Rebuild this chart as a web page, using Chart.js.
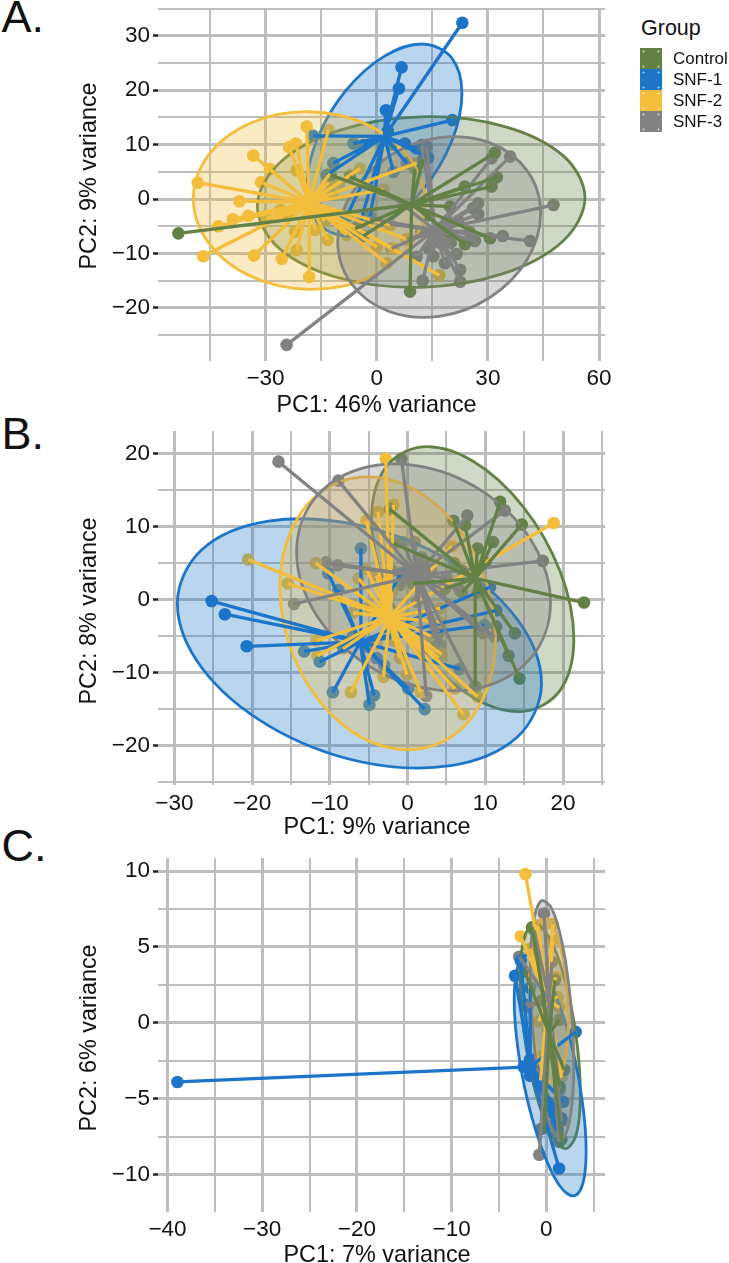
<!DOCTYPE html>
<html>
<head>
<meta charset="utf-8">
<script src="https://cdn.jsdelivr.net/npm/chart.js@4"></script>
<style>
  html, body { margin: 0; padding: 0; background: #fff; width: 729px; height: 1263px; overflow: hidden; }
  body { position: relative; font-family: "Liberation Sans", Arial, sans-serif; color: #111; }
  canvas { position: absolute; left: 0; }
  .letter { position: absolute; left: 1.5px; font-size: 45px; line-height: 45px; }
  .axisTitle { position: absolute; font-size: 23.4px; line-height: 24px; white-space: nowrap; transform: translate(-50%, -50%); }
  .axisTitle.vertical { transform: translate(-50%, -50%) rotate(-90deg); }
  #legendTitle { position: absolute; left: 641px; top: 16px; font-size: 21.5px; line-height: 24px; }
  .key { position: absolute; left: 640px; width: 22px; height: 21px;
         background-image: radial-gradient(circle, rgba(255,255,255,.55) 0.8px, transparent 1.4px);
         background-size: 15px 15px; background-position: -4px -4px; }
  .keyText { position: absolute; left: 673px; font-size: 17px; line-height: 21px; white-space: nowrap; }
</style>
</head>
<body>
<div class="letter" style="top:-6px">A.</div>
<div class="letter" style="top:411px">B.</div>
<div class="letter" style="top:823px">C.</div>
<div id="legendTitle">Group</div>
<canvas id="chartA" width="729" height="420" style="top:0"></canvas>
<canvas id="chartB" width="729" height="420" style="top:420px"></canvas>
<canvas id="chartC" width="729" height="425" style="top:845px"></canvas>
<div class="axisTitle" style="left:376.5px; top:403.6px">PC1: 46% variance</div>
<div class="axisTitle vertical" style="left:88.2px; top:176px">PC2: 9% variance</div>
<div class="axisTitle" style="left:377px; top:826px">PC1: 9% variance</div>
<div class="axisTitle vertical" style="left:88.2px; top:610.7px">PC2: 8% variance</div>
<div class="axisTitle" style="left:377px; top:1254.4px">PC1: 7% variance</div>
<div class="axisTitle vertical" style="left:88.2px; top:1038px">PC2: 6% variance</div>

<script>
'use strict';

// groups and colours
const groupNames = ['Control', 'SNF-1', 'SNF-2', 'SNF-3'];
const groupColors = ['#638146', '#1c75c8', '#f2be3c', '#828282'];

// panel A, samples as [PC1, PC2]
const aControlCenter = [9.4, -1];
const aControlPoints = [[-53.5,-6.3],[-12.4,4.4],[9,-17],[31.9,8.5],[32.4,4],[31,2.3],[23.8,2.3],[19.8,-1.4],[30.6,-7.2],[23.8,-8.3],[12.6,7.3],[10.3,5.6],[-5.8,-5.4],[-3.6,-6.8],[-7.2,4.1],[14,-3],[19,-6]];
const aControlHull = [[56.2,0.25],[50.3,7.97],[34.1,13.41],[12,15.11],[-10.1,12.61],[-26.3,6.59],[-32.2,-1.35],[-26.3,-9.07],[-10.1,-14.51],[12,-16.21],[34.1,-13.71],[50.3,-7.69]];

const aSnf1Center = [2.1, 11.5];
const aSnf1Points = [[23.1,32.4],[6.7,24.2],[6,20.3],[2.5,16.3],[20.4,14.5],[-17.1,11.6],[-6.3,10.2],[-3.6,9.9],[7.6,10.2],[10.8,9.3],[13.9,7.6],[8.1,6.6],[4.5,5],[-11.7,6.6],[-13.5,4.4],[-8.1,-3.2],[-4.3,-4.2],[-1.8,-3.2],[2.5,11],[3,12.5],[1,10.5],[4,10]];
const aSnf1Hull = [[23,19.41],[20.2,25.97],[12.55,28.48],[2.1,26.26],[-8.35,19.9],[-16,11.13],[-18.8,2.27],[-16,-4.29],[-8.35,-6.8],[2.1,-4.58],[12.55,1.78],[20.2,10.55]];

const aSnf2Center = [-18.2, -0.6];
const aSnf2Points = [[-18.9,13.3],[-13,12.7],[-21.8,10.2],[-23.6,9.5],[-33.3,8],[-28.8,5.5],[-21.6,5.3],[-31.2,3.1],[-48.3,3],[-37,-0.4],[-34.6,-3.1],[-38.8,-3.7],[-42.7,-5],[-46.8,-10.5],[-33.1,-10.4],[-25.6,-11],[-21.6,-9.4],[-18.2,-14.3],[-16.6,-5.7],[-13.2,-7.5],[-8.1,-6.6],[0,-8.8],[3.6,-4.8],[8.1,-7.4],[4.5,-9.1],[2.7,-11.8],[16.9,-14],[-4.5,5.6],[-7.2,4.4],[-12.6,4.7],[1.8,1.7],[-29.7,-3.6],[10.8,6.6],[-24,-3],[-12,1],[-10,3],[-26,-2],[-14,-4],[-22,-6],[-13,3]];
const aSnf2Hull = [[13.05,-0.63],[8.86,7.58],[-2.57,13.67],[-18.2,16.04],[-33.83,14.03],[-45.26,8.18],[-49.45,0.07],[-45.26,-8.14],[-33.83,-14.23],[-18.2,-16.6],[-2.57,-14.59],[8.86,-8.74]];

const aSnf3Center = [15.7, -5.7];
const aSnf3Points = [[-24.3,-26.8],[36,7.8],[31,7.5],[47.7,-1.1],[27.4,-0.8],[26,-1.7],[27.4,-2.8],[34,-6.8],[41.4,-7.7],[26.5,-7.7],[21.6,-10.1],[18.4,-11.8],[22.5,-13],[22.5,-15.2],[12.4,-15],[15.3,-10.5],[10.8,-10.6],[4,-9.1],[13.5,9.6],[12.1,9.9],[1.8,1.7],[3.6,-4.6],[-1.8,-3.6],[8.1,-7.4],[12,-6],[19,-4],[20,-8],[14,-9],[17,-8],[22,-4],[25,-6]];
const aSnf3Hull = [[44.24,-2.63],[40.57,5.23],[30.55,10.33],[16.86,11.27],[3.17,7.81],[-6.85,0.89],[-10.52,-7.65],[-6.85,-15.51],[3.17,-20.61],[16.86,-21.55],[30.55,-18.09],[40.57,-11.17]];

// panel B
const bControlCenter = [8.7, 2.9];
const bControlPoints = [[22.7,-0.4],[14.4,-10.8],[13,-7.7],[13.8,-4.6],[11.9,13.4],[14.7,10.3],[11,7.9],[5.9,10.8],[7.4,10.2],[-2.3,12.4],[-1.8,7.7],[0.7,2.2],[4.8,1.5],[8.7,-11.9],[11.4,-3.7],[7,4],[9,1],[10,5],[7,1],[9,7],[6,5]];
const bControlHull = [[21.39,-5.4],[19.65,3.8],[14.88,12.72],[8.38,18.99],[1.88,20.92],[-2.89,18],[-4.63,11],[-2.89,1.8],[1.88,-7.12],[8.38,-13.39],[14.88,-15.32],[19.65,-12.4]];

const bSnf1Center = [-6.1, -5.8];
const bSnf1Points = [[-25.2,-0.2],[-23.5,-2],[-20.7,-6.4],[-13.3,-7.1],[-11.3,-8.5],[-9.6,-12.7],[-4.9,-14.4],[-4.3,-13.1],[0.1,-12.2],[2.2,-15],[6.7,-9.5],[9.9,-3.5],[-6,7],[-10.2,3.6],[-8.9,1.3],[-8.3,-6.5],[10.6,1.7],[11.4,-1.5],[-0.8,3.6],[-7,-5],[-5,-6.5],[-4,-8],[-3,-9]];
const bSnf1Hull = [[17.23,-11.51],[14.09,-2.68],[5.52,5.24],[-6.19,10.16],[-17.9,10.74],[-26.47,6.84],[-29.61,-0.51],[-26.47,-9.34],[-17.9,-17.26],[-6.19,-22.18],[5.52,-22.76],[14.09,-18.86]];

const bSnf2Center = [-2.3, -2.4];
const bSnf2Points = [[-2.8,19.3],[18.8,10.5],[-20.5,5.5],[-15.4,2.2],[-11.8,5],[-1.8,13],[-3.8,12],[-5.3,10.8],[5.7,7.3],[-5.3,4.2],[-6.3,2.9],[-4,3.3],[-7,-1.8],[4.2,-1.2],[4.2,-3.1],[4.4,-7.5],[-11.7,-5.6],[-11.6,-7.7],[-8.3,-6.7],[-7.3,-12.7],[-3.1,-10.6],[-0.1,-10.3],[1.7,-12.7],[6.1,-12.2],[7.2,-15.7],[9,-13.3],[-1.8,-5.6],[-5,-1],[0,-4],[1,-6],[-4,-6],[-1,-8],[2,-7],[-2,1],[-3,3],[3,-5],[4,-8]];
const bSnf2Hull = [[11.32,-5.37],[9.46,4.3],[4.39,12.31],[-2.55,16.52],[-9.49,15.81],[-14.56,10.36],[-16.42,1.63],[-14.56,-8.04],[-9.49,-16.05],[-2.55,-20.26],[4.39,-19.55],[9.46,-14.1]];

const bSnf3Center = [1.2, 3.3];
const bSnf3Points = [[-16.6,18.9],[-0.8,19.3],[-8.9,16.3],[12.5,12.2],[7.7,11.5],[17.4,5.3],[-9,4.7],[-10.5,5.1],[-14.6,-0.6],[-0.6,7.9],[1.8,5.8],[0.9,7.9],[4.2,-6.2],[3.5,-5.3],[2.4,-13.2],[8.7,-12.2],[9.7,-4.6],[11.2,-5.1],[6.7,1.3],[4.6,1.3],[1.2,-0.3],[3.8,-5.8],[4,-4.5],[1.5,2],[3,4],[-1,2],[2,5],[0,4],[5,3],[-2,4]];
const bSnf3Hull = [[18.39,-0.45],[16.2,7.59],[10.23,14.41],[2.06,18.19],[-6.11,17.91],[-12.08,13.65],[-14.27,6.55],[-12.08,-1.49],[-6.11,-8.31],[2.06,-12.09],[10.23,-11.81],[16.2,-7.55]];

// panel C
const cControlCenter = [0.3, -0.7];
const cControlPoints = [[-1.5,6.3],[1.6,-7.7],[1.4,0.2],[1.4,-4.2],[1.9,-3.1],[-0.2,-6.9],[-0.4,1.5],[-2.3,3.4],[0.9,2.8],[-1,4.5]];
const cControlHull = [[3.6,-4.67],[3.17,-0.97],[2.01,2.75],[0.42,5.5],[-1.17,6.55],[-2.33,5.61],[-2.76,2.93],[-2.33,-0.77],[-1.17,-4.49],[0.42,-7.24],[2.01,-8.29],[3.17,-7.35]];

const cSnf1Center = [-1.7, -2.9];
const cSnf1Points = [[-38.95,-3.9],[-3.3,3.1],[3.1,-0.6],[1.35,-9.6],[1.8,-5.2],[1.6,-6.3],[-1.7,2.3],[-1.6,-3],[-1.2,-3.3],[-1.9,-2.9],[-0.6,-4.2],[0.3,-5.3],[1.2,-7.1],[-2.7,4.1],[-2.4,-2.9],[-1,-2.9],[-1.7,-2.4],[-1.7,-3.5],[-1,-3.6],[0.8,-6],[1,-6.6]];
const cSnf1Hull = [[4.21,-8.47],[4.08,-6.7],[3.7,-4.72],[3.1,-2.65],[2.31,-0.64],[1.39,1.18],[0.41,2.69],[-0.57,3.78],[-1.49,4.36],[-2.28,4.43],[-2.88,3.94],[-3.26,2.96],[-3.39,1.53],[-3.26,-0.24],[-2.88,-2.22],[-2.28,-4.29],[-1.49,-6.3],[-0.57,-8.12],[0.41,-9.63],[1.39,-10.72],[2.31,-11.3],[3.1,-11.37],[3.7,-10.88],[4.08,-9.9]];

const cSnf2Center = [0.14, 1.5];
const cSnf2Points = [[-2.2,9.8],[-2.7,5.7],[0.7,6.5],[0.7,5.4],[1,3],[1.2,1.7],[1.4,1],[-0.6,-3.8],[1.6,-3.6],[-0.8,0.1],[-1.7,4.9],[-0.9,6.4],[-0.4,-2.2]];
const cSnf2Hull = [[2.34,0.27],[2.06,3.1],[1.31,5.49],[0.27,6.8],[-0.77,6.69],[-1.52,5.18],[-1.8,2.67],[-1.52,-0.16],[-0.77,-2.55],[0.27,-3.86],[1.31,-3.75],[2.06,-2.24]];

const cSnf3Center = [0.3, 1.5];
const cSnf3Points = [[-2.86,4.35],[-2.2,1.2],[-0.74,-8.7],[-0.56,-7],[-1.27,6.1],[-0.24,7.2],[1.6,-6.5],[0.5,-2],[1.35,-7.85],[-1.97,1.05],[1.4,-4.4],[0.6,4],[0.2,-0.5]];
const cSnf3Hull = [[2.9,-2.77],[2.59,1.26],[1.75,5.03],[0.6,7.5],[-0.55,8.03],[-1.39,6.46],[-1.7,3.23],[-1.39,-0.8],[-0.55,-4.57],[0.6,-7.04],[1.75,-7.57],[2.59,-6]];

// tick lists, the major ones get a label and a thick line
const aXMajor = [-30, 0, 30, 60];
const aXMinor = [-45, -15, 15, 45];
const aYMajor = [-20, -10, 0, 10, 20, 30];
const aYMinor = [-25, -15, -5, 5, 15, 25, 35];
const bXMajor = [-30, -20, -10, 0, 10, 20];
const bXMinor = [-25, -15, -5, 5, 15, 25];
const bYMajor = [-20, -10, 0, 10, 20];
const bYMinor = [-25, -15, -5, 5, 15];
const cXMajor = [-40, -30, -20, -10, 0];
const cXMinor = [-35, -25, -15, -5, 5];
const cYMajor = [-10, -5, 0, 5, 10];
const cYMinor = [-7.5, -2.5, 2.5, 7.5];

const FONT = '"Liberation Sans", Arial, sans-serif';
const GRID = '#bdbdbd';

function toXY(pair) {
  return { x: pair[0], y: pair[1] };
}

function withAlpha(hex, a) {
  const n = parseInt(hex.slice(1), 16);
  return `rgba(${n >> 16}, ${(n >> 8) & 255}, ${n & 255}, ${a})`;
}

// spokes go centre -> sample, with a gap between each one
function spokeData(center, points) {
  const out = [];
  for (let p of points) {
    out.push(toXY(center), toXY(p), { x: null, y: null });
  }
  return out;
}

// layers from bottom to top: points, ellipses, spokes
function groupDatasets(g, center, points, hull) {
  const color = groupColors[g];
  const spokeOrder = [0, 3, 2, 1][g]; // blue, yellow, gray, green going up
  return [
    {
      label: groupNames[g] + ' samples',
      data: points.map(toXY),
      showLine: false,
      pointRadius: 6.3,
      pointBorderWidth: 0,
      pointBackgroundColor: color,
      order: 30 + g
    },
    {
      label: groupNames[g] + ' ellipse',
      data: hull.map(toXY),
      closedLine: true,
      showLine: true,
      tension: 0.35,
      fill: 'shape',
      backgroundColor: withAlpha(color, 0.3),
      borderColor: color,
      borderWidth: 2.8,
      pointRadius: 0,
      order: 25 - g
    },
    {
      label: groupNames[g] + ' spokes',
      data: spokeData(center, points),
      showLine: true,
      borderColor: color,
      borderWidth: 3.3,
      pointRadius: 0,
      spanGaps: false,
      order: spokeOrder
    }
  ];
}

function setTicks(major, minor) {
  return function (scale) {
    const all = major.concat(minor).sort(function (a, b) { return a - b; });
    scale.ticks = all.map(function (v) { return { value: v }; });
  };
}

function axis(major, minor, range, horizontal, extra) {
  return {
    type: 'linear',
    min: range[0],
    max: range[1],
    afterBuildTicks: setTicks(major, minor),
    afterFit: function (scale) {
      if (horizontal) {
        scale.height = extra.size;
      } else {
        scale.width = extra.size;
      }
      // no room for half labels at the ends, the plot box is fixed
      scale.paddingTop = 0;
      scale.paddingBottom = 0;
      scale.paddingLeft = 0;
      scale.paddingRight = 0;
    },
    border: { display: false },
    grid: {
      color: GRID,
      lineWidth: function (ctx) { return major.includes(ctx.tick.value) ? 3 : 2; },
      drawTicks: !horizontal,
      tickLength: 5,
      tickWidth: 2.5,
      tickColor: function (ctx) { return major.includes(ctx.tick.value) ? '#222' : 'rgba(0,0,0,0)'; }
    },
    ticks: {
      autoSkip: false,
      maxRotation: 0,
      minRotation: 0,
      padding: extra.tickPad,
      color: '#111',
      font: { family: FONT, size: 22.5 },
      callback: function (value) {
        if (!major.includes(value)) {
          return '';
        }
        return String(value).replace('-', '\u2212');
      }
    }
  };
}

function panel(id, sets, x, y, pad) {
  let datasets = [];
  for (let g = 0; g < 4; g++) {
    datasets = datasets.concat(groupDatasets(g, sets[g][0], sets[g][1], sets[g][2]));
  }
  const chart = new Chart(document.getElementById(id), {
    type: 'scatter',
    data: { datasets: datasets },
    options: {
      responsive: false,
      animation: false,
      layout: { padding: pad },
      plugins: { legend: { display: false }, tooltip: { enabled: false } },
      scales: { x: x, y: y }
    }
  });
  // ellipses are closed lines, same flags the radar controller sets
  datasets.forEach(function (d, i) {
    if (d.closedLine) {
      const line = chart.getDatasetMeta(i).dataset;
      line._loop = true;
      line._fullLoop = true;
    }
  });
  chart.update();
  return chart;
}

panel('chartA',
  [[aControlCenter, aControlPoints, aControlHull], [aSnf1Center, aSnf1Points, aSnf1Hull], [aSnf2Center, aSnf2Points, aSnf2Hull], [aSnf3Center, aSnf3Points, aSnf3Hull]],
  axis(aXMajor, aXMinor, [-59, 61.6], true, { size: 59.3, tickPad: 5 }),
  axis(aYMajor, aYMinor, [-29.7, 35.1], false, { size: 158, tickPad: 3 }),
  { top: 8, right: 124, left: 0, bottom: 0 });

panel('chartB',
  [[bControlCenter, bControlPoints, bControlHull], [bSnf1Center, bSnf1Points, bSnf1Hull], [bSnf2Center, bSnf2Points, bSnf2Hull], [bSnf3Center, bSnf3Points, bSnf3Hull]],
  axis(bXMajor, bXMinor, [-32.1, 25.4], true, { size: 55, tickPad: 5 }),
  axis(bYMajor, bYMinor, [-25.4, 23.1], false, { size: 158, tickPad: 3 }),
  { top: 11, right: 124, left: 0, bottom: 0 });

panel('chartC',
  [[cControlCenter, cControlPoints, cControlHull], [cSnf1Center, cSnf1Points, cSnf1Hull], [cSnf2Center, cSnf2Points, cSnf2Hull], [cSnf3Center, cSnf3Points, cSnf3Hull]],
  axis(cXMajor, cXMinor, [-41, 6.2], true, { size: 58.3, tickPad: 5 }),
  axis(cYMajor, cYMinor, [-12.45, 10.86], false, { size: 158, tickPad: 3 }),
  { top: 13, right: 124, left: 0, bottom: 0 });

// legend keys
groupNames.forEach(function (name, i) {
  const key = document.createElement('div');
  key.className = 'key';
  key.style.top = (48 + i * 21) + 'px';
  key.style.backgroundColor = groupColors[i];
  document.body.appendChild(key);
  const label = document.createElement('div');
  label.className = 'keyText';
  label.style.top = (48 + i * 21) + 'px';
  label.textContent = name;
  document.body.appendChild(label);
});
</script>
</body>
</html>
